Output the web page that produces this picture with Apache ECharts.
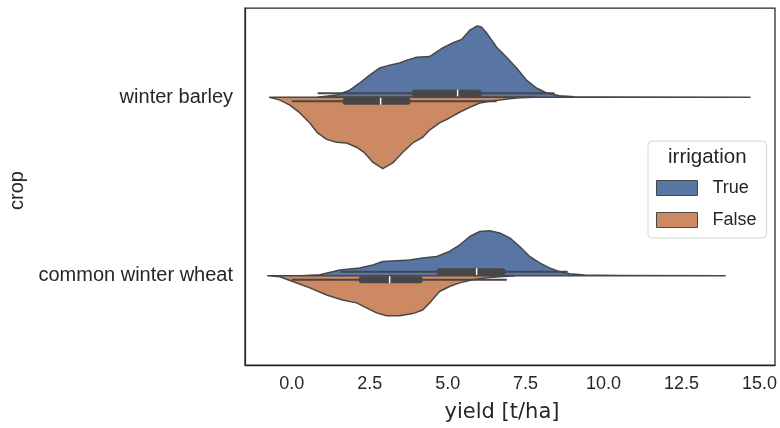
<!DOCTYPE html>
<html>
<head>
<meta charset="utf-8">
<script src="https://cdn.jsdelivr.net/npm/echarts@6/dist/echarts.min.js"></script>
<style>
  html, body { margin: 0; padding: 0; background: #ffffff; }
  #chart { width: 780px; height: 428px; }
</style>
</head>
<body>
<div id="chart"></div>
<script>
// Categories and hue levels
const crops = ['winter barley', 'common winter wheat'];
const irrigationLevels = ['True', 'False'];
const xTicks = [0, 2.5, 5, 7.5, 10, 12.5, 15];

// Half-violin outlines: [yield t/ha, half-width relative to the widest half]
const barleyIrrigated = [
  [0.83, 0], [1.44, 0.03], [1.86, 0.10], [2.18, 0.20], [2.50, 0.31], [2.82, 0.41],
  [3.14, 0.45], [3.46, 0.48], [3.69, 0.52], [4.01, 0.56], [4.42, 0.57], [4.84, 0.69],
  [5.16, 0.76], [5.45, 0.81], [5.71, 0.94], [5.87, 0.98], [5.96, 1.0], [6.09, 0.98],
  [6.25, 0.90], [6.57, 0.70], [6.89, 0.56], [7.21, 0.41], [7.53, 0.24], [7.85, 0.13],
  [8.17, 0.06], [8.59, 0.02], [9.07, 0.007], [10.5, 0.002], [14.7, 0]
];
const barleyRainfed = [
  [-0.71, 0], [-0.38, 0.04], [-0.06, 0.11], [0.26, 0.22], [0.58, 0.36], [0.83, 0.50],
  [1.12, 0.59], [1.44, 0.63], [1.76, 0.64], [2.08, 0.70], [2.34, 0.78], [2.60, 0.91],
  [2.92, 1.0], [3.24, 0.92], [3.56, 0.77], [3.88, 0.64], [4.20, 0.56], [4.42, 0.46],
  [4.74, 0.36], [5.06, 0.29], [5.38, 0.21], [5.71, 0.14], [6.03, 0.08], [6.35, 0.056],
  [6.67, 0.04], [6.99, 0.02], [7.30, 0.007], [7.8, 0]
];
const wheatIrrigated = [
  [0.30, 0], [0.90, 0.014], [1.54, 0.08], [2.18, 0.11], [2.60, 0.15], [2.92, 0.20],
  [3.37, 0.21], [3.78, 0.22], [4.20, 0.25], [4.65, 0.27], [5.06, 0.34], [5.38, 0.43],
  [5.71, 0.55], [6.03, 0.62], [6.35, 0.63], [6.67, 0.60], [6.99, 0.53], [7.31, 0.41],
  [7.63, 0.27], [7.95, 0.18], [8.27, 0.11], [8.59, 0.056], [8.91, 0.028], [9.40, 0.01],
  [10.5, 0.002], [13.9, 0]
];
const wheatRainfed = [
  [-0.77, 0], [-0.38, 0.014], [0.03, 0.08], [0.58, 0.17], [1.12, 0.27], [1.63, 0.34],
  [2.08, 0.38], [2.40, 0.45], [2.72, 0.52], [3.04, 0.56], [3.46, 0.56], [3.88, 0.53],
  [4.20, 0.48], [4.42, 0.38], [4.74, 0.22], [5.06, 0.15], [5.38, 0.10], [5.80, 0.056],
  [6.25, 0.028], [6.67, 0.014], [7.15, 0]
];

// Inner box statistics: [whisker low, Q1, median, Q3, whisker high]
const barleyIrrigatedBox = [0.83, 3.85, 5.32, 6.09, 8.43];
const barleyRainfedBox = [0.0, 1.63, 2.85, 3.81, 6.57];
const wheatIrrigatedBox = [1.57, 4.65, 5.93, 6.86, 8.85];
const wheatRainfedBox = [0.0, 2.15, 3.14, 4.20, 6.90];

const outlines = { True: [barleyIrrigated, wheatIrrigated], False: [barleyRainfed, wheatRainfed] };
const boxes = { True: [barleyIrrigatedBox, wheatIrrigatedBox], False: [barleyRainfedBox, wheatRainfedBox] };
const fills = { True: '#5875a4', False: '#cc8963' };

const INK = '#262626';
const EDGE = '#474747';
const HALF_WIDTH = 0.4; // in category units

function makeRenderer(level) {
  const side = level === 'True' ? -1 : 1; // True drawn above the centre line
  return function (params, api) {
    const cat = api.value(0);
    const band = api.size([0, 1])[1];
    const maxHalf = HALF_WIDTH * band;
    const centre = api.coord([0, cat])[1];
    const points = outlines[level][cat].map(function (p) {
      const c = api.coord([p[0], cat]);
      return [c[0], centre + side * p[1] * maxHalf];
    });
    const b = boxes[level][cat];
    const px = b.map(function (v) { return api.coord([v, cat])[0]; });
    const yBox = centre + side * 4;
    return {
      type: 'group',
      children: [
        {
          type: 'polygon',
          shape: { points: points },
          style: { fill: fills[level], stroke: EDGE, lineWidth: 1.5, lineJoin: 'round' }
        },
        {
          type: 'line',
          shape: { x1: px[0], y1: yBox, x2: px[4], y2: yBox },
          style: { stroke: EDGE, lineWidth: 2 }
        },
        {
          type: 'rect',
          shape: { x: px[1], y: yBox - 3.5, width: px[3] - px[1], height: 7, r: 3 },
          style: { fill: EDGE }
        },
        {
          type: 'line',
          shape: { x1: px[2], y1: yBox - 3.5, x2: px[2], y2: yBox + 3.5 },
          style: { stroke: '#ffffff', lineWidth: 1.5 }
        }
      ]
    };
  };
}

const chart = echarts.init(document.getElementById('chart'), null, { renderer: 'canvas' });

chart.setOption({
  animation: false,
  backgroundColor: '#ffffff',
  grid: {
    left: 245, right: 5, top: 8, bottom: 63,
    outerBoundsMode: 'none',
    containLabel: false,
    show: true, borderColor: INK, borderWidth: 1.25, backgroundColor: 'transparent'
  },
  xAxis: {
    type: 'value',
    min: -1.5,
    max: 15.5,
    name: 'yield [t/ha]',
    nameLocation: 'middle',
    nameGap: 37,
    nameTextStyle: { fontFamily: 'DejaVu Sans', fontSize: 21, color: INK, padding: [0, 16, 0, 0] },
    axisLine: { show: true, onZero: false, lineStyle: { color: INK, width: 1.25 } },
    axisTick: { show: false },
    splitLine: { show: false },
    axisLabel: {
      customValues: xTicks,
      margin: 10,
      fontFamily: 'Liberation Sans',
      fontSize: 18,
      color: INK,
      formatter: function (v) { return v.toFixed(1); }
    }
  },
  yAxis: {
    type: 'category',
    data: crops,
    inverse: true,
    name: 'crop',
    nameLocation: 'middle',
    nameRotate: 90,
    nameGap: 216,
    nameTextStyle: { fontFamily: 'Liberation Sans', fontSize: 20, color: INK, padding: [0, 8, 0, 0] },
    axisLine: { show: true, onZero: false, lineStyle: { color: INK, width: 1.25 } },
    axisTick: { show: false },
    splitLine: { show: false },
    axisLabel: { margin: 12, fontFamily: 'Liberation Sans', fontSize: 20, color: INK }
  },
  legend: {
    orient: 'vertical',
    left: 648,
    top: 141,
    padding: [38, 10, 9, 8],
    itemWidth: 41,
    itemHeight: 15,
    itemGap: 14,
    backgroundColor: 'rgba(255,255,255,0.8)',
    borderColor: '#d4d4d4',
    borderWidth: 1,
    borderRadius: 4,
    itemStyle: { borderColor: EDGE, borderWidth: 1 },
    textStyle: { fontFamily: 'Liberation Sans', fontSize: 18, color: INK, padding: [0, 0, 0, 10] },
    data: irrigationLevels.map(function (n) { return { name: n, icon: 'rect' }; })
  },
  graphic: [{
    type: 'text',
    left: 668,
    top: 147,
    z: 100,
    style: { text: 'irrigation', fontFamily: 'Liberation Sans', fontSize: 20.5, fill: INK }
  }],
  series: irrigationLevels.map(function (level) {
    return {
      type: 'custom',
      name: level,
      itemStyle: { color: fills[level] },
      encode: { y: 0 },
      data: crops.map(function (c, i) { return [i]; }),
      renderItem: makeRenderer(level),
      clip: true
    };
  })
});
</script>
</body>
</html>
